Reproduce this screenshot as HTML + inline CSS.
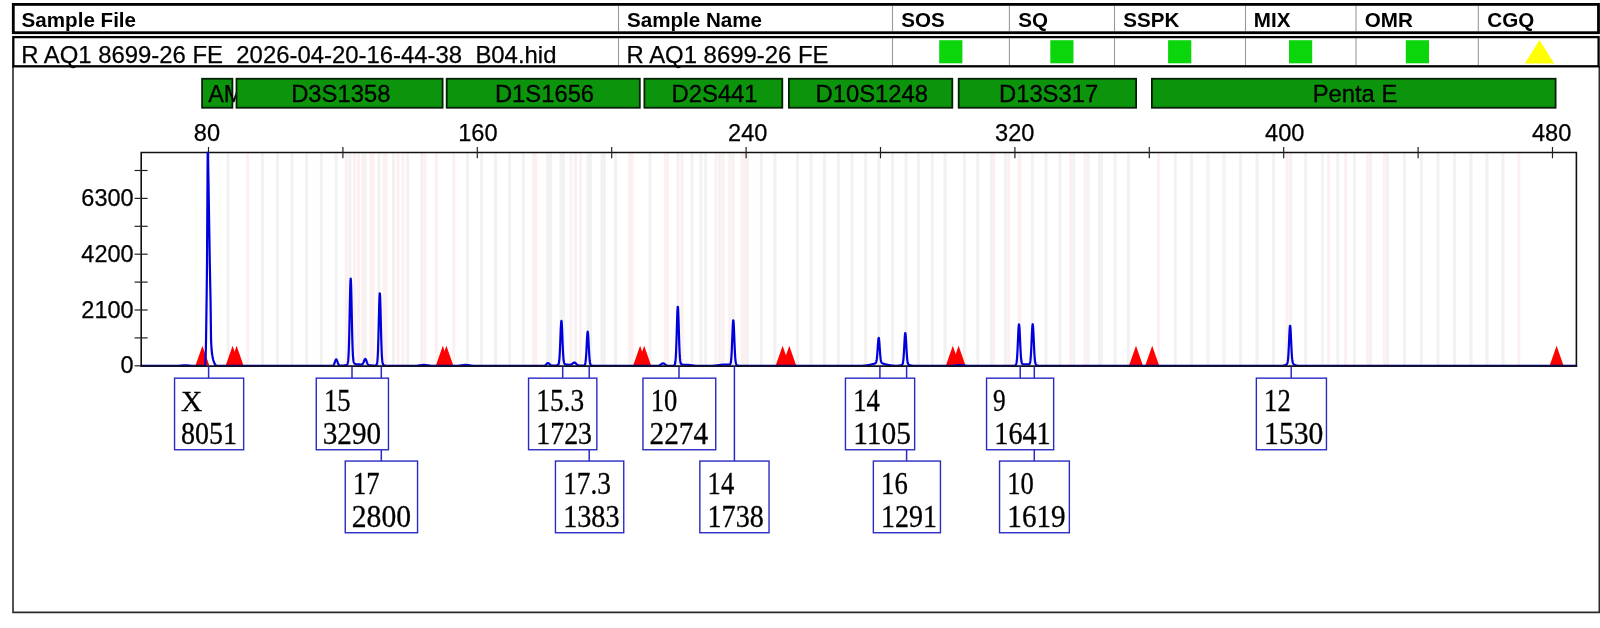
<!DOCTYPE html>
<html><head><meta charset="utf-8"><title>Electropherogram</title>
<style>html,body{margin:0;padding:0;background:#fff;}body{width:1600px;height:628px;overflow:hidden;}svg{display:block;position:absolute;left:0;top:0;will-change:transform;}.s{font-family:"Liberation Sans",sans-serif;}.t{font-family:"Liberation Serif",serif;}</style></head><body>
<svg width="1600" height="628" viewBox="0 0 1600 628">
<rect x="0" y="0" width="1600" height="628" fill="#ffffff"/>
<path d="M13.0 66 V612.4 H1599.3 V66" fill="none" stroke="#2a2a2a" stroke-width="1.6"/>
<line x1="618.5" y1="5.8" x2="618.5" y2="31.3" stroke="#9a9a9a" stroke-width="1.1"/>
<line x1="618.5" y1="38.2" x2="618.5" y2="65.1" stroke="#9a9a9a" stroke-width="1.1"/>
<line x1="892.5" y1="5.8" x2="892.5" y2="31.3" stroke="#9a9a9a" stroke-width="1.1"/>
<line x1="892.5" y1="38.2" x2="892.5" y2="65.1" stroke="#9a9a9a" stroke-width="1.1"/>
<line x1="1009.4" y1="5.8" x2="1009.4" y2="31.3" stroke="#9a9a9a" stroke-width="1.1"/>
<line x1="1009.4" y1="38.2" x2="1009.4" y2="65.1" stroke="#9a9a9a" stroke-width="1.1"/>
<line x1="1114.5" y1="5.8" x2="1114.5" y2="31.3" stroke="#9a9a9a" stroke-width="1.1"/>
<line x1="1114.5" y1="38.2" x2="1114.5" y2="65.1" stroke="#9a9a9a" stroke-width="1.1"/>
<line x1="1245.5" y1="5.8" x2="1245.5" y2="31.3" stroke="#9a9a9a" stroke-width="1.1"/>
<line x1="1245.5" y1="38.2" x2="1245.5" y2="65.1" stroke="#9a9a9a" stroke-width="1.1"/>
<line x1="1356.0" y1="5.8" x2="1356.0" y2="31.3" stroke="#9a9a9a" stroke-width="1.1"/>
<line x1="1356.0" y1="38.2" x2="1356.0" y2="65.1" stroke="#9a9a9a" stroke-width="1.1"/>
<line x1="1478.3" y1="5.8" x2="1478.3" y2="31.3" stroke="#9a9a9a" stroke-width="1.1"/>
<line x1="1478.3" y1="38.2" x2="1478.3" y2="65.1" stroke="#9a9a9a" stroke-width="1.1"/>
<text class="s" x="21.6" y="26.8" font-size="20.6" font-weight="bold" fill="#000">Sample File</text>
<text class="s" x="627.0" y="26.8" font-size="20.6" font-weight="bold" fill="#000">Sample Name</text>
<text class="s" x="901.3" y="26.8" font-size="20.6" font-weight="bold" fill="#000">SOS</text>
<text class="s" x="1018.3" y="26.8" font-size="20.6" font-weight="bold" fill="#000">SQ</text>
<text class="s" x="1123.3" y="26.8" font-size="20.6" font-weight="bold" fill="#000">SSPK</text>
<text class="s" x="1253.8" y="26.8" font-size="20.6" font-weight="bold" fill="#000">MIX</text>
<text class="s" x="1364.8" y="26.8" font-size="20.6" font-weight="bold" fill="#000">OMR</text>
<text class="s" x="1487.3" y="26.8" font-size="20.6" font-weight="bold" fill="#000">CGQ</text>
<text class="s" x="21.2" y="63.2" font-size="23.9" fill="#000" stroke="#000" stroke-width="0.25" xml:space="preserve">R AQ1 8699-26 FE  2026-04-20-16-44-38  B04.hid</text>
<text class="s" x="626.6" y="63.2" font-size="23.9" fill="#000" stroke="#000" stroke-width="0.25">R AQ1 8699-26 FE</text>
<rect x="939.2" y="40.2" width="23.2" height="23.1" fill="#0bd60b"/>
<rect x="1050.3" y="40.2" width="23.2" height="23.1" fill="#0bd60b"/>
<rect x="1168.1" y="40.2" width="23.2" height="23.1" fill="#0bd60b"/>
<rect x="1289.0" y="40.2" width="23.2" height="23.1" fill="#0bd60b"/>
<rect x="1405.8" y="40.2" width="23.2" height="23.1" fill="#0bd60b"/>
<path d="M1539.5 40.0 L1554.2 63.6 L1524.8 63.6 Z" fill="#ffff00"/>
<rect x="13.3" y="4.4" width="1585.2" height="28.3" fill="none" stroke="#000" stroke-width="2.8"/>
<rect x="13.3" y="37.1" width="1585.3" height="29.2" fill="none" stroke="#000" stroke-width="2.3"/>
<defs><clipPath id="amclip"><rect x="201.4" y="78" width="34.5" height="30.3"/></clipPath></defs>
<rect x="202.1" y="78.75" width="30.3" height="29.0" fill="#0c940c" stroke="#042004" stroke-width="1.8"/>
<text class="s" x="208.2" y="102.2" font-size="23.5" fill="#000" stroke="#000" stroke-width="0.25" clip-path="url(#amclip)">AMEL</text>
<rect x="236.5" y="78.75" width="206.1" height="29.0" fill="#0c940c" stroke="#042004" stroke-width="1.8"/>
<text class="s" x="340.8" y="102.2" font-size="23.8" fill="#000" stroke="#000" stroke-width="0.3" text-anchor="middle">D3S1358</text>
<rect x="446.7" y="78.75" width="193.1" height="29.0" fill="#0c940c" stroke="#042004" stroke-width="1.8"/>
<text class="s" x="544.5" y="102.2" font-size="23.8" fill="#000" stroke="#000" stroke-width="0.3" text-anchor="middle">D1S1656</text>
<rect x="644.4" y="78.75" width="137.9" height="29.0" fill="#0c940c" stroke="#042004" stroke-width="1.8"/>
<text class="s" x="714.6" y="102.2" font-size="23.8" fill="#000" stroke="#000" stroke-width="0.3" text-anchor="middle">D2S441</text>
<rect x="788.9" y="78.75" width="163.4" height="29.0" fill="#0c940c" stroke="#042004" stroke-width="1.8"/>
<text class="s" x="871.8" y="102.2" font-size="23.8" fill="#000" stroke="#000" stroke-width="0.3" text-anchor="middle">D10S1248</text>
<rect x="958.7" y="78.75" width="177.4" height="29.0" fill="#0c940c" stroke="#042004" stroke-width="1.8"/>
<text class="s" x="1048.6" y="102.2" font-size="23.8" fill="#000" stroke="#000" stroke-width="0.3" text-anchor="middle">D13S317</text>
<rect x="1151.9" y="78.75" width="403.7" height="29.0" fill="#0c940c" stroke="#042004" stroke-width="1.8"/>
<text class="s" x="1355.0" y="102.2" font-size="23.8" fill="#000" stroke="#000" stroke-width="0.3" text-anchor="middle">Penta E</text>
<rect x="226.6" y="152.5" width="3" height="213.1" fill="#f2f2f2"/>
<rect x="261.0" y="152.5" width="3" height="213.1" fill="#f2f2f2"/>
<rect x="276.0" y="152.5" width="3" height="213.1" fill="#f2f2f2"/>
<rect x="290.4" y="152.5" width="3" height="213.1" fill="#f2f2f2"/>
<rect x="305.1" y="152.5" width="3" height="213.1" fill="#f2f2f2"/>
<rect x="319.8" y="152.5" width="3" height="213.1" fill="#f2f2f2"/>
<rect x="334.6" y="152.5" width="3" height="213.1" fill="#f2f2f2"/>
<rect x="348.5" y="152.5" width="3" height="213.1" fill="#f2f2f2"/>
<rect x="363.5" y="152.5" width="3" height="213.1" fill="#f2f2f2"/>
<rect x="377.5" y="152.5" width="3" height="213.1" fill="#f2f2f2"/>
<rect x="392.0" y="152.5" width="3" height="213.1" fill="#f2f2f2"/>
<rect x="406.0" y="152.5" width="3" height="213.1" fill="#f2f2f2"/>
<rect x="420.4" y="152.5" width="3" height="213.1" fill="#f2f2f2"/>
<rect x="466.0" y="152.5" width="3" height="213.1" fill="#f2f2f2"/>
<rect x="480.0" y="152.5" width="3" height="213.1" fill="#f2f2f2"/>
<rect x="494.1" y="152.5" width="3" height="213.1" fill="#f2f2f2"/>
<rect x="508.1" y="152.5" width="3" height="213.1" fill="#f2f2f2"/>
<rect x="521.8" y="152.5" width="3" height="213.1" fill="#f2f2f2"/>
<rect x="546.0" y="152.5" width="3" height="213.1" fill="#f2f2f2"/>
<rect x="549.1" y="152.5" width="3" height="213.1" fill="#f2f2f2"/>
<rect x="559.5" y="152.5" width="3" height="213.1" fill="#f2f2f2"/>
<rect x="562.0" y="152.5" width="3" height="213.1" fill="#f2f2f2"/>
<rect x="574.1" y="152.5" width="3" height="213.1" fill="#f2f2f2"/>
<rect x="586.5" y="152.5" width="3" height="213.1" fill="#f2f2f2"/>
<rect x="589.0" y="152.5" width="3" height="213.1" fill="#f2f2f2"/>
<rect x="600.5" y="152.5" width="3" height="213.1" fill="#f2f2f2"/>
<rect x="603.0" y="152.5" width="3" height="213.1" fill="#f2f2f2"/>
<rect x="614.1" y="152.5" width="3" height="213.1" fill="#f2f2f2"/>
<rect x="648.5" y="152.5" width="3" height="213.1" fill="#f2f2f2"/>
<rect x="676.5" y="152.5" width="3" height="213.1" fill="#f2f2f2"/>
<rect x="690.5" y="152.5" width="3" height="213.1" fill="#f2f2f2"/>
<rect x="699.5" y="152.5" width="3" height="213.1" fill="#f2f2f2"/>
<rect x="704.1" y="152.5" width="3" height="213.1" fill="#f2f2f2"/>
<rect x="717.9" y="152.5" width="3" height="213.1" fill="#f2f2f2"/>
<rect x="731.5" y="152.5" width="3" height="213.1" fill="#f2f2f2"/>
<rect x="746.0" y="152.5" width="3" height="213.1" fill="#f2f2f2"/>
<rect x="759.8" y="152.5" width="3" height="213.1" fill="#f2f2f2"/>
<rect x="773.5" y="152.5" width="3" height="213.1" fill="#f2f2f2"/>
<rect x="796.0" y="152.5" width="3" height="213.1" fill="#f2f2f2"/>
<rect x="809.5" y="152.5" width="3" height="213.1" fill="#f2f2f2"/>
<rect x="822.9" y="152.5" width="3" height="213.1" fill="#f2f2f2"/>
<rect x="836.9" y="152.5" width="3" height="213.1" fill="#f2f2f2"/>
<rect x="850.5" y="152.5" width="3" height="213.1" fill="#f2f2f2"/>
<rect x="864.1" y="152.5" width="3" height="213.1" fill="#f2f2f2"/>
<rect x="877.5" y="152.5" width="3" height="213.1" fill="#f2f2f2"/>
<rect x="891.0" y="152.5" width="3" height="213.1" fill="#f2f2f2"/>
<rect x="904.5" y="152.5" width="3" height="213.1" fill="#f2f2f2"/>
<rect x="917.0" y="152.5" width="3" height="213.1" fill="#f2f2f2"/>
<rect x="930.8" y="152.5" width="3" height="213.1" fill="#f2f2f2"/>
<rect x="943.5" y="152.5" width="3" height="213.1" fill="#f2f2f2"/>
<rect x="962.9" y="152.5" width="3" height="213.1" fill="#f2f2f2"/>
<rect x="976.3" y="152.5" width="3" height="213.1" fill="#f2f2f2"/>
<rect x="990.1" y="152.5" width="3" height="213.1" fill="#f2f2f2"/>
<rect x="1003.9" y="152.5" width="3" height="213.1" fill="#f2f2f2"/>
<rect x="1017.3" y="152.5" width="3" height="213.1" fill="#f2f2f2"/>
<rect x="1030.8" y="152.5" width="3" height="213.1" fill="#f2f2f2"/>
<rect x="1044.5" y="152.5" width="3" height="213.1" fill="#f2f2f2"/>
<rect x="1058.5" y="152.5" width="3" height="213.1" fill="#f2f2f2"/>
<rect x="1072.3" y="152.5" width="3" height="213.1" fill="#f2f2f2"/>
<rect x="1086.5" y="152.5" width="3" height="213.1" fill="#f2f2f2"/>
<rect x="1098.1" y="152.5" width="3" height="213.1" fill="#f2f2f2"/>
<rect x="1099.8" y="152.5" width="3" height="213.1" fill="#f2f2f2"/>
<rect x="1113.5" y="152.5" width="3" height="213.1" fill="#f2f2f2"/>
<rect x="1127.0" y="152.5" width="3" height="213.1" fill="#f2f2f2"/>
<rect x="1173.8" y="152.5" width="3" height="213.1" fill="#f2f2f2"/>
<rect x="1190.0" y="152.5" width="3" height="213.1" fill="#f2f2f2"/>
<rect x="1206.5" y="152.5" width="3" height="213.1" fill="#f2f2f2"/>
<rect x="1222.5" y="152.5" width="3" height="213.1" fill="#f2f2f2"/>
<rect x="1239.1" y="152.5" width="3" height="213.1" fill="#f2f2f2"/>
<rect x="1255.5" y="152.5" width="3" height="213.1" fill="#f2f2f2"/>
<rect x="1272.0" y="152.5" width="3" height="213.1" fill="#f2f2f2"/>
<rect x="1289.1" y="152.5" width="3" height="213.1" fill="#f2f2f2"/>
<rect x="1304.1" y="152.5" width="3" height="213.1" fill="#f2f2f2"/>
<rect x="1320.8" y="152.5" width="3" height="213.1" fill="#f2f2f2"/>
<rect x="1336.3" y="152.5" width="3" height="213.1" fill="#f2f2f2"/>
<rect x="1352.9" y="152.5" width="3" height="213.1" fill="#f2f2f2"/>
<rect x="1369.1" y="152.5" width="3" height="213.1" fill="#f2f2f2"/>
<rect x="1386.0" y="152.5" width="3" height="213.1" fill="#f2f2f2"/>
<rect x="1402.9" y="152.5" width="3" height="213.1" fill="#f2f2f2"/>
<rect x="1419.8" y="152.5" width="3" height="213.1" fill="#f2f2f2"/>
<rect x="1436.5" y="152.5" width="3" height="213.1" fill="#f2f2f2"/>
<rect x="1453.1" y="152.5" width="3" height="213.1" fill="#f2f2f2"/>
<rect x="1469.5" y="152.5" width="3" height="213.1" fill="#f2f2f2"/>
<rect x="1485.5" y="152.5" width="3" height="213.1" fill="#f2f2f2"/>
<rect x="1501.5" y="152.5" width="3" height="213.1" fill="#f2f2f2"/>
<rect x="246.1" y="152.5" width="3" height="213.1" fill="#fdf0f0"/>
<rect x="344.8" y="152.5" width="3" height="213.1" fill="#fdf0f0"/>
<rect x="352.9" y="152.5" width="3" height="213.1" fill="#fdf0f0"/>
<rect x="357.0" y="152.5" width="3" height="213.1" fill="#fdf0f0"/>
<rect x="361.3" y="152.5" width="3" height="213.1" fill="#fdf0f0"/>
<rect x="369.5" y="152.5" width="3" height="213.1" fill="#fdf0f0"/>
<rect x="371.5" y="152.5" width="3" height="213.1" fill="#fdf0f0"/>
<rect x="382.5" y="152.5" width="3" height="213.1" fill="#fdf0f0"/>
<rect x="384.5" y="152.5" width="3" height="213.1" fill="#fdf0f0"/>
<rect x="396.5" y="152.5" width="3" height="213.1" fill="#fdf0f0"/>
<rect x="401.5" y="152.5" width="3" height="213.1" fill="#fdf0f0"/>
<rect x="423.5" y="152.5" width="3" height="213.1" fill="#fdf0f0"/>
<rect x="434.8" y="152.5" width="3" height="213.1" fill="#fdf0f0"/>
<rect x="452.3" y="152.5" width="3" height="213.1" fill="#fdf0f0"/>
<rect x="532.0" y="152.5" width="3" height="213.1" fill="#fdf0f0"/>
<rect x="534.3" y="152.5" width="3" height="213.1" fill="#fdf0f0"/>
<rect x="569.5" y="152.5" width="3" height="213.1" fill="#fdf0f0"/>
<rect x="579.1" y="152.5" width="3" height="213.1" fill="#fdf0f0"/>
<rect x="628.0" y="152.5" width="3" height="213.1" fill="#fdf0f0"/>
<rect x="630.5" y="152.5" width="3" height="213.1" fill="#fdf0f0"/>
<rect x="664.0" y="152.5" width="3" height="213.1" fill="#fdf0f0"/>
<rect x="666.0" y="152.5" width="3" height="213.1" fill="#fdf0f0"/>
<rect x="680.5" y="152.5" width="3" height="213.1" fill="#fdf0f0"/>
<rect x="714.3" y="152.5" width="3" height="213.1" fill="#fdf0f0"/>
<rect x="721.5" y="152.5" width="3" height="213.1" fill="#fdf0f0"/>
<rect x="728.3" y="152.5" width="3" height="213.1" fill="#fdf0f0"/>
<rect x="740.5" y="152.5" width="3" height="213.1" fill="#fdf0f0"/>
<rect x="743.0" y="152.5" width="3" height="213.1" fill="#fdf0f0"/>
<rect x="992.3" y="152.5" width="3" height="213.1" fill="#fdf0f0"/>
<rect x="1007.3" y="152.5" width="3" height="213.1" fill="#fdf0f0"/>
<rect x="1018.5" y="152.5" width="3" height="213.1" fill="#fdf0f0"/>
<rect x="1069.1" y="152.5" width="3" height="213.1" fill="#fdf0f0"/>
<rect x="1083.5" y="152.5" width="3" height="213.1" fill="#fdf0f0"/>
<rect x="1157.0" y="152.5" width="3" height="213.1" fill="#fdf0f0"/>
<rect x="1285.5" y="152.5" width="3" height="213.1" fill="#fdf0f0"/>
<rect x="1327.0" y="152.5" width="3" height="213.1" fill="#fdf0f0"/>
<rect x="1344.1" y="152.5" width="3" height="213.1" fill="#fdf0f0"/>
<rect x="1366.0" y="152.5" width="3" height="213.1" fill="#fdf0f0"/>
<rect x="1382.9" y="152.5" width="3" height="213.1" fill="#fdf0f0"/>
<rect x="1517.3" y="152.5" width="3" height="213.1" fill="#fdf0f0"/>
<rect x="195.0" y="152.5" width="3" height="213.1" fill="#fefef8"/>
<rect x="217.3" y="152.5" width="3" height="213.1" fill="#fefef8"/>
<path d="M202.4 345.8 L209.3 365.6 L195.5 365.6 Z" fill="#ff0000"/>
<path d="M232.6 345.8 L239.5 365.6 L225.7 365.6 Z" fill="#ff0000"/>
<path d="M236.6 345.8 L243.5 365.6 L229.7 365.6 Z" fill="#ff0000"/>
<path d="M442.8 345.8 L449.7 365.6 L435.90000000000003 365.6 Z" fill="#ff0000"/>
<path d="M446.4 345.8 L453.29999999999995 365.6 L439.5 365.6 Z" fill="#ff0000"/>
<path d="M640.1 345.8 L647.0 365.6 L633.2 365.6 Z" fill="#ff0000"/>
<path d="M644.2 345.8 L651.1 365.6 L637.3000000000001 365.6 Z" fill="#ff0000"/>
<path d="M782.6 345.8 L789.5 365.6 L775.7 365.6 Z" fill="#ff0000"/>
<path d="M789.3 345.8 L796.1999999999999 365.6 L782.4 365.6 Z" fill="#ff0000"/>
<path d="M952.8 345.8 L959.6999999999999 365.6 L945.9 365.6 Z" fill="#ff0000"/>
<path d="M958.6 345.8 L965.5 365.6 L951.7 365.6 Z" fill="#ff0000"/>
<path d="M1136.0 345.8 L1142.9 365.6 L1129.1 365.6 Z" fill="#ff0000"/>
<path d="M1152.2 345.8 L1159.1000000000001 365.6 L1145.3 365.6 Z" fill="#ff0000"/>
<path d="M1556.6 345.8 L1563.5 365.6 L1549.6999999999998 365.6 Z" fill="#ff0000"/>
<path d="M141.2 366.5 V152.5 H1576.4 V366.5" fill="none" stroke="#111" stroke-width="1.6"/>
<line x1="208.5" y1="147" x2="208.5" y2="158.3" stroke="#222" stroke-width="1.2"/>
<text class="s" x="206.9" y="140.6" font-size="23.6" fill="#000" stroke="#000" stroke-width="0.25" text-anchor="middle">80</text>
<line x1="342.9" y1="147" x2="342.9" y2="158.3" stroke="#222" stroke-width="1.2"/>
<line x1="477.3" y1="147" x2="477.3" y2="158.3" stroke="#222" stroke-width="1.2"/>
<text class="s" x="477.9" y="140.6" font-size="23.6" fill="#000" stroke="#000" stroke-width="0.25" text-anchor="middle">160</text>
<line x1="611.7" y1="147" x2="611.7" y2="158.3" stroke="#222" stroke-width="1.2"/>
<line x1="746.1" y1="147" x2="746.1" y2="158.3" stroke="#222" stroke-width="1.2"/>
<text class="s" x="747.8" y="140.6" font-size="23.6" fill="#000" stroke="#000" stroke-width="0.25" text-anchor="middle">240</text>
<line x1="880.5" y1="147" x2="880.5" y2="158.3" stroke="#222" stroke-width="1.2"/>
<line x1="1014.9" y1="147" x2="1014.9" y2="158.3" stroke="#222" stroke-width="1.2"/>
<text class="s" x="1014.8" y="140.6" font-size="23.6" fill="#000" stroke="#000" stroke-width="0.25" text-anchor="middle">320</text>
<line x1="1149.3" y1="147" x2="1149.3" y2="158.3" stroke="#222" stroke-width="1.2"/>
<line x1="1283.7" y1="147" x2="1283.7" y2="158.3" stroke="#222" stroke-width="1.2"/>
<text class="s" x="1284.8" y="140.6" font-size="23.6" fill="#000" stroke="#000" stroke-width="0.25" text-anchor="middle">400</text>
<line x1="1418.1" y1="147" x2="1418.1" y2="158.3" stroke="#222" stroke-width="1.2"/>
<line x1="1552.5" y1="147" x2="1552.5" y2="158.3" stroke="#222" stroke-width="1.2"/>
<text class="s" x="1551.7" y="140.6" font-size="23.6" fill="#000" stroke="#000" stroke-width="0.25" text-anchor="middle">480</text>
<line x1="134.6" y1="365.8" x2="147.6" y2="365.8" stroke="#222" stroke-width="1.2"/>
<line x1="134.6" y1="337.9" x2="147.6" y2="337.9" stroke="#222" stroke-width="1.2"/>
<line x1="134.6" y1="310.0" x2="147.6" y2="310.0" stroke="#222" stroke-width="1.2"/>
<line x1="134.6" y1="282.1" x2="147.6" y2="282.1" stroke="#222" stroke-width="1.2"/>
<line x1="134.6" y1="254.2" x2="147.6" y2="254.2" stroke="#222" stroke-width="1.2"/>
<line x1="134.6" y1="226.3" x2="147.6" y2="226.3" stroke="#222" stroke-width="1.2"/>
<line x1="134.6" y1="198.4" x2="147.6" y2="198.4" stroke="#222" stroke-width="1.2"/>
<line x1="134.6" y1="170.5" x2="147.6" y2="170.5" stroke="#222" stroke-width="1.2"/>
<text class="s" x="133.6" y="373.4" font-size="23.5" fill="#000" stroke="#000" stroke-width="0.25" text-anchor="end">0</text>
<text class="s" x="133.6" y="317.6" font-size="23.5" fill="#000" stroke="#000" stroke-width="0.25" text-anchor="end">2100</text>
<text class="s" x="133.6" y="261.8" font-size="23.5" fill="#000" stroke="#000" stroke-width="0.25" text-anchor="end">4200</text>
<text class="s" x="133.6" y="206.0" font-size="23.5" fill="#000" stroke="#000" stroke-width="0.25" text-anchor="end">6300</text>
<defs><clipPath id="pc"><rect x="141.2" y="151.7" width="1435.2" height="214.3"/></clipPath></defs>
<polyline clip-path="url(#pc)" points="141.20 365.95 143.20 365.95 145.20 365.95 147.20 365.95 149.20 365.95 151.20 365.95 153.20 365.95 155.20 365.95 157.20 365.95 159.20 365.95 161.20 365.95 163.20 365.95 165.20 365.95 167.20 365.95 169.20 365.95 169.45 365.95 169.70 365.95 169.95 365.95 170.20 365.95 170.45 365.95 170.70 365.95 170.95 365.95 171.20 365.95 171.45 365.95 171.70 365.95 171.95 365.95 172.20 365.95 172.45 365.95 172.70 365.94 172.95 365.94 173.20 365.94 173.45 365.94 173.70 365.94 173.95 365.94 174.20 365.93 174.45 365.93 174.70 365.93 174.95 365.92 175.20 365.92 175.45 365.92 175.70 365.91 175.95 365.90 176.20 365.90 176.45 365.89 176.70 365.88 176.95 365.87 177.20 365.86 177.45 365.85 177.70 365.84 177.95 365.82 178.20 365.81 178.45 365.79 178.70 365.78 178.95 365.76 179.20 365.74 179.45 365.72 179.70 365.70 179.95 365.68 180.20 365.66 180.45 365.64 180.70 365.61 180.95 365.59 181.20 365.57 181.45 365.55 181.70 365.52 181.95 365.50 182.20 365.48 182.45 365.46 182.70 365.44 182.95 365.42 183.20 365.41 183.45 365.39 183.70 365.38 183.95 365.37 184.20 365.36 184.45 365.36 184.70 365.35 184.95 365.35 185.20 365.35 185.45 365.35 185.70 365.36 185.95 365.37 186.20 365.38 186.45 365.39 186.70 365.40 186.95 365.42 187.20 365.43 187.45 365.45 187.70 365.47 187.95 365.49 188.20 365.51 188.45 365.54 188.70 365.56 188.95 365.58 189.20 365.60 189.45 365.63 189.70 365.65 189.95 365.67 190.20 365.69 190.45 365.71 190.70 365.73 190.95 365.75 191.20 365.77 191.45 365.79 191.70 365.80 191.95 365.82 192.20 365.83 192.45 365.84 192.70 365.86 192.95 365.87 193.20 365.88 193.45 365.89 193.70 365.89 193.95 365.90 194.20 365.91 194.45 365.91 194.70 365.92 194.95 365.92 195.20 365.93 195.45 365.93 195.70 365.93 195.95 365.94 196.20 365.94 196.45 365.94 196.70 365.94 196.95 365.94 197.20 365.94 197.45 365.95 197.70 365.95 197.95 365.95 198.20 365.95 198.45 365.95 198.70 365.95 198.95 365.95 199.20 365.95 199.45 365.95 199.70 365.95 199.95 365.95 200.20 365.95 200.45 365.95 200.70 365.95 200.95 365.95 201.20 365.95 203.20 365.95 204.70 365.95 205.20 364.80 205.50 360.00 205.70 355.00 206.05 340.00 206.60 300.00 206.99 265.00 207.26 220.00 207.51 180.00 207.70 152.00 207.85 148.00 208.00 152.00 208.46 180.00 209.11 220.00 209.84 265.00 210.55 300.00 211.05 340.00 211.60 350.00 212.30 355.50 213.10 359.50 214.10 362.60 215.30 365.00 216.60 365.80 216.95 365.95 218.95 365.95 220.95 365.95 222.95 365.95 224.95 365.95 226.95 365.95 228.95 365.95 230.95 365.95 232.95 365.95 234.95 365.95 236.95 365.95 238.95 365.95 240.95 365.95 242.95 365.95 244.95 365.95 246.95 365.95 248.95 365.95 250.95 365.95 252.95 365.95 254.95 365.95 256.95 365.95 258.95 365.95 260.95 365.95 262.95 365.95 264.95 365.95 266.95 365.95 268.95 365.95 270.95 365.95 272.95 365.95 274.95 365.95 276.95 365.95 278.95 365.95 280.95 365.95 282.95 365.95 284.95 365.95 286.95 365.95 288.95 365.95 290.95 365.95 292.95 365.95 294.95 365.95 296.95 365.95 298.95 365.95 300.95 365.95 302.95 365.95 304.95 365.95 306.95 365.95 308.95 365.95 310.95 365.95 312.95 365.95 314.95 365.95 316.95 365.95 318.95 365.95 320.95 365.95 322.95 365.95 323.20 365.95 323.45 365.95 323.70 365.95 323.95 365.95 324.20 365.95 324.45 365.95 324.70 365.95 324.95 365.95 325.20 365.95 325.45 365.95 325.70 365.95 325.95 365.95 326.20 365.95 326.45 365.95 326.70 365.95 326.95 365.95 327.20 365.95 327.45 365.95 327.70 365.94 327.95 365.94 328.20 365.94 328.45 365.94 328.70 365.94 328.95 365.94 329.20 365.94 329.45 365.94 329.70 365.94 329.95 365.94 330.20 365.94 330.45 365.94 330.70 365.93 330.95 365.93 331.20 365.93 331.45 365.92 331.70 365.91 331.95 365.90 332.20 365.87 332.45 365.82 332.70 365.75 332.95 365.63 333.20 365.46 333.45 365.22 333.70 364.89 333.95 364.45 334.20 363.91 334.45 363.27 334.70 362.56 334.95 361.80 335.20 361.05 335.45 360.38 335.70 359.84 335.95 359.49 336.20 359.37 336.45 359.48 336.70 359.82 336.95 360.35 337.20 361.01 337.45 361.75 337.70 362.49 337.95 363.20 338.20 363.83 338.45 364.35 338.70 364.78 338.95 365.10 339.20 365.33 339.45 365.49 339.70 365.59 339.95 365.65 340.20 365.68 340.45 365.69 340.70 365.70 340.95 365.69 341.20 365.68 341.45 365.67 341.70 365.66 341.95 365.64 342.20 365.63 342.45 365.61 342.70 365.59 342.95 365.57 343.20 365.56 343.45 365.53 343.70 365.51 343.95 365.49 344.20 365.46 344.45 365.43 344.70 365.39 344.95 365.35 345.20 365.31 345.45 365.25 345.70 365.19 345.95 365.12 346.20 365.04 346.45 364.94 346.70 364.81 346.95 364.64 347.20 364.39 347.45 364.00 347.70 363.33 347.95 362.17 348.20 360.21 348.45 357.03 348.70 352.16 348.95 345.19 349.20 335.93 349.45 324.61 349.70 312.01 349.95 299.45 350.20 288.64 350.45 281.26 350.70 278.59 350.95 281.08 351.20 288.28 351.45 298.92 351.70 311.32 351.95 323.79 352.20 334.99 352.45 344.15 352.70 351.04 352.95 355.84 353.20 358.98 353.45 360.92 353.70 362.07 353.95 362.74 354.20 363.15 354.45 363.41 354.70 363.60 354.95 363.75 355.20 363.87 355.45 363.98 355.70 364.07 355.95 364.14 356.20 364.20 356.45 364.26 356.70 364.30 356.95 364.33 357.20 364.36 357.45 364.38 357.70 364.40 357.95 364.41 358.20 364.42 358.45 364.43 358.70 364.44 358.95 364.45 359.20 364.46 359.45 364.46 359.70 364.47 359.95 364.48 360.20 364.49 360.45 364.50 360.70 364.50 360.95 364.51 361.20 364.50 361.45 364.48 361.70 364.44 361.95 364.37 362.20 364.26 362.45 364.08 362.70 363.83 362.95 363.49 363.20 363.05 363.45 362.52 363.70 361.91 363.95 361.25 364.20 360.57 364.45 359.94 364.70 359.42 364.95 359.05 365.20 358.88 365.45 358.92 365.70 359.19 365.95 359.64 366.20 360.24 366.45 360.93 366.70 361.65 366.95 362.35 367.20 363.00 367.45 363.56 367.70 364.02 367.95 364.38 368.20 364.66 368.45 364.87 368.70 365.01 368.95 365.12 369.20 365.19 369.45 365.25 369.70 365.29 369.95 365.32 370.20 365.35 370.45 365.37 370.70 365.39 370.95 365.42 371.20 365.44 371.45 365.46 371.70 365.48 371.95 365.50 372.20 365.51 372.45 365.53 372.70 365.54 372.95 365.56 373.20 365.57 373.45 365.58 373.70 365.58 373.95 365.58 374.20 365.58 374.45 365.57 374.70 365.55 374.95 365.53 375.20 365.50 375.45 365.45 375.70 365.38 375.95 365.29 376.20 365.14 376.45 364.90 376.70 364.47 376.95 363.72 377.20 362.40 377.45 360.20 377.70 356.74 377.95 351.63 378.20 344.61 378.45 335.72 378.70 325.42 378.95 314.66 379.20 304.78 379.45 297.26 379.70 293.35 379.95 293.74 380.20 298.35 380.45 306.36 380.70 316.45 380.95 327.14 381.20 337.16 381.45 345.65 381.70 352.26 381.95 357.01 382.20 360.20 382.45 362.21 382.70 363.43 382.95 364.15 383.20 364.59 383.45 364.87 383.70 365.06 383.95 365.21 384.20 365.34 384.45 365.44 384.70 365.54 384.95 365.61 385.20 365.68 385.45 365.73 385.70 365.78 385.95 365.82 386.20 365.85 386.45 365.87 386.70 365.89 386.95 365.90 387.20 365.91 387.45 365.92 387.70 365.93 387.95 365.93 388.20 365.94 388.45 365.94 388.70 365.94 388.95 365.94 389.20 365.94 389.45 365.95 389.70 365.95 389.95 365.95 390.20 365.95 390.45 365.95 390.70 365.95 390.95 365.95 391.20 365.95 391.45 365.95 391.70 365.95 391.95 365.95 392.20 365.95 392.45 365.95 392.70 365.95 392.95 365.95 393.20 365.95 393.45 365.95 393.70 365.95 393.95 365.95 394.20 365.95 396.20 365.95 398.20 365.95 400.20 365.95 402.20 365.95 404.20 365.95 406.20 365.95 408.20 365.95 408.45 365.95 408.70 365.95 408.95 365.95 409.20 365.95 409.45 365.95 409.70 365.95 409.95 365.95 410.20 365.95 410.45 365.95 410.70 365.95 410.95 365.95 411.20 365.94 411.45 365.94 411.70 365.94 411.95 365.94 412.20 365.94 412.45 365.93 412.70 365.93 412.95 365.93 413.20 365.92 413.45 365.92 413.70 365.91 413.95 365.91 414.20 365.90 414.45 365.89 414.70 365.88 414.95 365.87 415.20 365.86 415.45 365.85 415.70 365.83 415.95 365.82 416.20 365.80 416.45 365.78 416.70 365.76 416.95 365.74 417.20 365.71 417.45 365.69 417.70 365.66 417.95 365.63 418.20 365.60 418.45 365.57 418.70 365.53 418.95 365.50 419.20 365.46 419.45 365.43 419.70 365.39 419.95 365.35 420.20 365.31 420.45 365.28 420.70 365.24 420.95 365.20 421.20 365.17 421.45 365.13 421.70 365.10 421.95 365.07 422.20 365.05 422.45 365.02 422.70 365.00 422.95 364.98 423.20 364.97 423.45 364.96 423.70 364.95 423.95 364.95 424.20 364.95 424.45 364.96 424.70 364.97 424.95 364.98 425.20 364.99 425.45 365.01 425.70 365.04 425.95 365.06 426.20 365.09 426.45 365.12 426.70 365.15 426.95 365.19 427.20 365.22 427.45 365.26 427.70 365.30 427.95 365.34 428.20 365.37 428.45 365.41 428.70 365.45 428.95 365.48 429.20 365.52 429.45 365.55 429.70 365.59 429.95 365.62 430.20 365.65 430.45 365.68 430.70 365.70 430.95 365.73 431.20 365.75 431.45 365.77 431.70 365.79 431.95 365.81 432.20 365.83 432.45 365.84 432.70 365.86 432.95 365.87 433.20 365.88 433.45 365.89 433.70 365.90 433.95 365.90 434.20 365.91 434.45 365.92 434.70 365.92 434.95 365.93 435.20 365.93 435.45 365.93 435.70 365.94 435.95 365.94 436.20 365.94 436.45 365.94 436.70 365.94 436.95 365.94 437.20 365.95 437.45 365.95 437.70 365.95 437.95 365.95 438.20 365.95 438.45 365.95 438.70 365.95 438.95 365.95 439.20 365.95 439.45 365.95 439.70 365.95 439.95 365.95 440.20 365.95 442.20 365.95 444.20 365.95 446.20 365.95 448.20 365.95 450.20 365.95 450.45 365.95 450.70 365.95 450.95 365.95 451.20 365.95 451.45 365.95 451.70 365.95 451.95 365.95 452.20 365.95 452.45 365.95 452.70 365.94 452.95 365.94 453.20 365.94 453.45 365.94 453.70 365.94 453.95 365.94 454.20 365.93 454.45 365.93 454.70 365.93 454.95 365.92 455.20 365.92 455.45 365.91 455.70 365.90 455.95 365.90 456.20 365.89 456.45 365.88 456.70 365.87 456.95 365.85 457.20 365.84 457.45 365.82 457.70 365.81 457.95 365.79 458.20 365.77 458.45 365.75 458.70 365.72 458.95 365.70 459.20 365.67 459.45 365.64 459.70 365.61 459.95 365.58 460.20 365.55 460.45 365.51 460.70 365.48 460.95 365.44 461.20 365.40 461.45 365.37 461.70 365.33 461.95 365.29 462.20 365.25 462.45 365.22 462.70 365.18 462.95 365.15 463.20 365.11 463.45 365.08 463.70 365.06 463.95 365.03 464.20 365.01 464.45 364.99 464.70 364.97 464.95 364.96 465.20 364.95 465.45 364.95 465.70 364.95 465.95 364.95 466.20 364.96 466.45 364.97 466.70 364.99 466.95 365.01 467.20 365.03 467.45 365.05 467.70 365.08 467.95 365.11 468.20 365.14 468.45 365.17 468.70 365.21 468.95 365.25 469.20 365.28 469.45 365.32 469.70 365.36 469.95 365.40 470.20 365.43 470.45 365.47 470.70 365.51 470.95 365.54 471.20 365.57 471.45 365.61 471.70 365.64 471.95 365.67 472.20 365.69 472.45 365.72 472.70 365.74 472.95 365.77 473.20 365.79 473.45 365.80 473.70 365.82 473.95 365.84 474.20 365.85 474.45 365.86 474.70 365.87 474.95 365.88 475.20 365.89 475.45 365.90 475.70 365.91 475.95 365.91 476.20 365.92 476.45 365.92 476.70 365.93 476.95 365.93 477.20 365.94 477.45 365.94 477.70 365.94 477.95 365.94 478.20 365.94 478.45 365.94 478.70 365.95 478.95 365.95 479.20 365.95 479.45 365.95 479.70 365.95 479.95 365.95 480.20 365.95 480.45 365.95 480.70 365.95 480.95 365.95 481.20 365.95 481.45 365.95 481.70 365.95 483.70 365.95 485.70 365.95 487.70 365.95 489.70 365.95 491.70 365.95 493.70 365.95 495.70 365.95 497.70 365.95 499.70 365.95 501.70 365.95 503.70 365.95 505.70 365.95 507.70 365.95 509.70 365.95 511.70 365.95 513.70 365.95 515.70 365.95 517.70 365.95 519.70 365.95 521.70 365.95 523.70 365.95 525.70 365.95 527.70 365.95 529.70 365.95 531.70 365.95 533.70 365.95 535.70 365.95 537.70 365.95 537.95 365.95 538.20 365.95 538.45 365.95 538.70 365.95 538.95 365.95 539.20 365.95 539.45 365.95 539.70 365.95 539.95 365.95 540.20 365.95 540.45 365.95 540.70 365.95 540.95 365.95 541.20 365.95 541.45 365.94 541.70 365.94 541.95 365.94 542.20 365.94 542.45 365.94 542.70 365.93 542.95 365.92 543.20 365.91 543.45 365.89 543.70 365.86 543.95 365.82 544.20 365.77 544.45 365.70 544.70 365.60 544.95 365.48 545.20 365.32 545.45 365.14 545.70 364.93 545.95 364.69 546.20 364.43 546.45 364.17 546.70 363.90 546.95 363.65 547.20 363.44 547.45 363.27 547.70 363.15 547.95 363.10 548.20 363.12 548.45 363.20 548.70 363.34 548.95 363.53 549.20 363.76 549.45 364.01 549.70 364.27 549.95 364.52 550.20 364.76 550.45 364.97 550.70 365.16 550.95 365.31 551.20 365.44 551.45 365.53 551.70 365.61 551.95 365.66 552.20 365.69 552.45 365.71 552.70 365.72 552.95 365.72 553.20 365.72 553.45 365.71 553.70 365.70 553.95 365.69 554.20 365.67 554.45 365.66 554.70 365.64 554.95 365.62 555.20 365.59 555.45 365.57 555.70 365.54 555.95 365.51 556.20 365.48 556.45 365.44 556.70 365.39 556.95 365.34 557.20 365.28 557.45 365.20 557.70 365.10 557.95 364.95 558.20 364.72 558.45 364.32 558.70 363.65 558.95 362.53 559.20 360.74 559.45 358.04 559.70 354.22 559.95 349.24 560.20 343.25 560.45 336.73 560.70 330.39 560.95 325.13 561.20 321.78 561.45 320.92 561.70 322.71 561.95 326.80 562.20 332.50 562.45 338.92 562.70 345.21 562.95 350.76 563.20 355.21 563.45 358.51 563.70 360.77 563.95 362.23 564.20 363.12 564.45 363.64 564.70 363.95 564.95 364.13 565.20 364.26 565.45 364.34 565.70 364.41 565.95 364.47 566.20 364.52 566.45 364.56 566.70 364.60 566.95 364.63 567.20 364.65 567.45 364.67 567.70 364.69 567.95 364.70 568.20 364.71 568.45 364.72 568.70 364.73 568.95 364.74 569.20 364.74 569.45 364.74 569.70 364.74 569.95 364.73 570.20 364.71 570.45 364.68 570.70 364.64 570.95 364.57 571.20 364.49 571.45 364.38 571.70 364.25 571.95 364.08 572.20 363.89 572.45 363.68 572.70 363.46 572.95 363.23 573.20 363.02 573.45 362.82 573.70 362.66 573.95 362.54 574.20 362.48 574.45 362.48 574.70 362.55 574.95 362.68 575.20 362.86 575.45 363.08 575.70 363.33 575.95 363.59 576.20 363.86 576.45 364.12 576.70 364.36 576.95 364.58 577.20 364.77 577.45 364.93 577.70 365.06 577.95 365.17 578.20 365.26 578.45 365.33 578.70 365.39 578.95 365.43 579.20 365.47 579.45 365.50 579.70 365.53 579.95 365.55 580.20 365.57 580.45 365.59 580.70 365.60 580.95 365.62 581.20 365.63 581.45 365.64 581.70 365.65 581.95 365.66 582.20 365.66 582.45 365.66 582.70 365.66 582.95 365.65 583.20 365.64 583.45 365.62 583.70 365.59 583.95 365.55 584.20 365.47 584.45 365.33 584.70 365.08 584.95 364.64 585.20 363.88 585.45 362.64 585.70 360.73 585.95 357.98 586.20 354.32 586.45 349.85 586.70 344.86 586.95 339.90 587.20 335.63 587.45 332.72 587.70 331.67 587.95 332.67 588.20 335.54 588.45 339.77 588.70 344.71 588.95 349.66 589.20 354.12 589.45 357.76 589.70 360.50 589.95 362.42 590.20 363.68 590.45 364.45 590.70 364.92 590.95 365.20 591.20 365.36 591.45 365.48 591.70 365.56 591.95 365.63 592.20 365.68 592.45 365.73 592.70 365.77 592.95 365.80 593.20 365.83 593.45 365.86 593.70 365.88 593.95 365.89 594.20 365.91 594.45 365.92 594.70 365.92 594.95 365.93 595.20 365.94 595.45 365.94 595.70 365.94 595.95 365.94 596.20 365.94 596.45 365.95 596.70 365.95 596.95 365.95 597.20 365.95 597.45 365.95 597.70 365.95 597.95 365.95 598.20 365.95 598.45 365.95 598.70 365.95 598.95 365.95 599.20 365.95 599.45 365.95 599.70 365.95 599.95 365.95 600.20 365.95 602.20 365.95 604.20 365.95 606.20 365.95 608.20 365.95 610.20 365.95 612.20 365.95 614.20 365.95 616.20 365.95 618.20 365.95 620.20 365.95 622.20 365.95 624.20 365.95 626.20 365.95 628.20 365.95 630.20 365.95 632.20 365.95 634.20 365.95 636.20 365.95 638.20 365.95 640.20 365.95 642.20 365.95 644.20 365.95 646.20 365.95 648.20 365.95 650.20 365.95 652.20 365.95 654.20 365.95 656.20 365.94 656.45 365.94 656.70 365.93 656.95 365.92 657.20 365.91 657.45 365.89 657.70 365.87 657.95 365.84 658.20 365.80 658.45 365.75 658.70 365.69 658.95 365.62 659.20 365.52 659.45 365.41 659.70 365.28 659.95 365.14 660.20 364.97 660.45 364.80 660.70 364.61 660.95 364.41 661.20 364.22 661.45 364.02 661.70 363.85 661.95 363.68 662.20 363.55 662.45 363.45 662.70 363.38 662.95 363.35 663.20 363.36 663.45 363.41 663.70 363.50 663.95 363.63 664.20 363.78 664.45 363.95 664.70 364.14 664.95 364.33 665.20 364.53 665.45 364.72 665.70 364.90 665.95 365.07 666.20 365.23 666.45 365.36 666.70 365.48 666.95 365.58 667.20 365.66 667.45 365.73 667.70 365.78 667.95 365.83 668.20 365.86 668.45 365.88 668.70 365.90 668.95 365.91 669.20 365.92 669.45 365.93 669.70 365.93 669.95 365.93 670.20 365.93 670.45 365.93 670.70 365.93 670.95 365.92 671.20 365.92 671.45 365.91 671.70 365.90 671.95 365.88 672.20 365.86 672.45 365.84 672.70 365.81 672.95 365.78 673.20 365.73 673.45 365.68 673.70 365.61 673.95 365.51 674.20 365.38 674.45 365.16 674.70 364.80 674.95 364.17 675.20 363.08 675.45 361.27 675.70 358.44 675.95 354.26 676.20 348.54 676.45 341.29 676.70 332.90 676.95 324.14 677.20 316.09 677.45 309.96 677.70 306.75 677.95 307.04 678.20 310.75 678.45 317.22 678.70 325.38 678.95 334.03 679.20 342.13 679.45 349.00 679.70 354.33 679.95 358.15 680.20 360.70 680.45 362.30 680.70 363.25 680.95 363.80 681.20 364.11 681.45 364.30 681.70 364.42 681.95 364.51 682.20 364.57 682.45 364.62 682.70 364.66 682.95 364.69 683.20 364.72 683.45 364.73 683.70 364.74 683.95 364.75 684.20 364.75 684.45 364.75 684.70 364.75 684.95 364.75 685.20 364.74 685.45 364.74 685.70 364.74 685.95 364.74 686.20 364.75 686.45 364.75 686.70 364.76 686.95 364.77 687.20 364.78 687.45 364.80 687.70 364.82 687.95 364.84 688.20 364.86 688.45 364.89 688.70 364.91 688.95 364.94 689.20 364.97 689.45 365.00 689.70 365.04 689.95 365.07 690.20 365.11 690.45 365.14 690.70 365.18 690.95 365.21 691.20 365.25 691.45 365.29 691.70 365.32 691.95 365.36 692.20 365.39 692.45 365.43 692.70 365.46 692.95 365.49 693.20 365.52 693.45 365.55 693.70 365.58 693.95 365.61 694.20 365.64 694.45 365.66 694.70 365.69 694.95 365.71 695.20 365.73 695.45 365.75 695.70 365.77 695.95 365.78 696.20 365.80 696.45 365.81 696.70 365.83 696.95 365.84 697.20 365.85 697.45 365.86 697.70 365.87 697.95 365.88 698.20 365.89 698.45 365.90 698.70 365.90 698.95 365.91 699.20 365.91 699.45 365.92 699.70 365.92 699.95 365.93 700.20 365.93 700.45 365.93 700.70 365.93 700.95 365.94 701.20 365.94 701.45 365.94 701.70 365.94 701.95 365.94 702.20 365.94 702.45 365.94 702.70 365.94 702.95 365.94 703.20 365.94 703.45 365.95 703.70 365.95 703.95 365.95 704.20 365.94 704.45 365.94 704.70 365.94 704.95 365.94 705.20 365.94 705.45 365.94 705.70 365.94 705.95 365.94 706.20 365.94 706.45 365.94 706.70 365.94 706.95 365.93 707.20 365.93 707.45 365.93 707.70 365.93 707.95 365.93 708.20 365.92 708.45 365.92 708.70 365.92 708.95 365.91 709.20 365.91 709.45 365.90 709.70 365.90 709.95 365.89 710.20 365.88 710.45 365.88 710.70 365.87 710.95 365.86 711.20 365.85 711.45 365.84 711.70 365.83 711.95 365.82 712.20 365.81 712.45 365.79 712.70 365.78 712.95 365.76 713.20 365.75 713.45 365.73 713.70 365.71 713.95 365.69 714.20 365.67 714.45 365.65 714.70 365.63 714.95 365.61 715.20 365.58 715.45 365.56 715.70 365.53 715.95 365.50 716.20 365.47 716.45 365.44 716.70 365.41 716.95 365.38 717.20 365.35 717.45 365.32 717.70 365.28 717.95 365.25 718.20 365.21 718.45 365.18 718.70 365.14 718.95 365.11 719.20 365.07 719.45 365.04 719.70 365.00 719.95 364.97 720.20 364.93 720.45 364.90 720.70 364.87 720.95 364.84 721.20 364.80 721.45 364.77 721.70 364.75 721.95 364.72 722.20 364.69 722.45 364.67 722.70 364.65 722.95 364.63 723.20 364.61 723.45 364.60 723.70 364.58 723.95 364.57 724.20 364.56 724.45 364.56 724.70 364.55 724.95 364.55 725.20 364.55 725.45 364.55 725.70 364.56 725.95 364.56 726.20 364.57 726.45 364.58 726.70 364.59 726.95 364.60 727.20 364.62 727.45 364.63 727.70 364.64 727.95 364.65 728.20 364.66 728.45 364.66 728.70 364.66 728.95 364.65 729.20 364.64 729.45 364.60 729.70 364.54 729.95 364.42 730.20 364.18 730.45 363.74 730.70 362.95 730.95 361.61 731.20 359.49 731.45 356.34 731.70 352.01 731.95 346.51 732.20 340.14 732.45 333.48 732.70 327.37 732.95 322.72 733.20 320.32 733.45 320.59 733.70 323.48 733.95 328.49 734.20 334.78 734.45 341.45 734.70 347.71 734.95 353.01 735.20 357.14 735.45 360.11 735.70 362.11 735.95 363.39 736.20 364.16 736.45 364.63 736.70 364.91 736.95 365.10 737.20 365.24 737.45 365.34 737.70 365.43 737.95 365.51 738.20 365.58 738.45 365.64 738.70 365.69 738.95 365.73 739.20 365.77 739.45 365.80 739.70 365.82 739.95 365.84 740.20 365.86 740.45 365.88 740.70 365.89 740.95 365.90 741.20 365.90 741.45 365.91 741.70 365.92 741.95 365.92 742.20 365.93 742.45 365.93 742.70 365.93 742.95 365.93 743.20 365.94 743.45 365.94 743.70 365.94 743.95 365.94 744.20 365.94 744.45 365.94 744.70 365.94 744.95 365.94 745.20 365.95 745.45 365.95 745.70 365.95 745.95 365.95 746.20 365.95 746.45 365.95 746.70 365.95 746.95 365.95 747.20 365.95 747.45 365.95 747.70 365.95 747.95 365.95 748.20 365.95 748.45 365.95 748.70 365.95 748.95 365.95 749.20 365.95 751.20 365.95 753.20 365.95 755.20 365.95 757.20 365.95 759.20 365.95 761.20 365.95 763.20 365.95 765.20 365.95 767.20 365.95 769.20 365.95 771.20 365.95 773.20 365.95 775.20 365.95 777.20 365.95 779.20 365.95 781.20 365.95 783.20 365.95 785.20 365.95 787.20 365.95 789.20 365.95 791.20 365.95 793.20 365.95 795.20 365.95 797.20 365.95 799.20 365.95 801.20 365.95 803.20 365.95 805.20 365.95 807.20 365.95 809.20 365.95 811.20 365.95 813.20 365.95 815.20 365.95 817.20 365.95 819.20 365.95 821.20 365.95 823.20 365.95 825.20 365.95 827.20 365.95 829.20 365.95 831.20 365.95 833.20 365.95 835.20 365.95 837.20 365.95 839.20 365.95 841.20 365.95 843.20 365.95 845.20 365.95 847.20 365.95 849.20 365.95 851.20 365.95 851.45 365.95 851.70 365.95 851.95 365.95 852.20 365.95 852.45 365.95 852.70 365.95 852.95 365.95 853.20 365.95 853.45 365.95 853.70 365.95 853.95 365.94 854.20 365.94 854.45 365.94 854.70 365.94 854.95 365.94 855.20 365.94 855.45 365.94 855.70 365.94 855.95 365.94 856.20 365.94 856.45 365.93 856.70 365.93 856.95 365.93 857.20 365.93 857.45 365.92 857.70 365.92 857.95 365.92 858.20 365.91 858.45 365.91 858.70 365.91 858.95 365.90 859.20 365.90 859.45 365.89 859.70 365.88 859.95 365.88 860.20 365.87 860.45 365.86 860.70 365.85 860.95 365.85 861.20 365.84 861.45 365.83 861.70 365.81 861.95 365.80 862.20 365.79 862.45 365.77 862.70 365.76 862.95 365.74 863.20 365.73 863.45 365.71 863.70 365.69 863.95 365.67 864.20 365.65 864.45 365.62 864.70 365.60 864.95 365.57 865.20 365.55 865.45 365.52 865.70 365.49 865.95 365.46 866.20 365.42 866.45 365.39 866.70 365.35 866.95 365.31 867.20 365.28 867.45 365.24 867.70 365.19 867.95 365.15 868.20 365.11 868.45 365.06 868.70 365.01 868.95 364.96 869.20 364.91 869.45 364.86 869.70 364.81 869.95 364.76 870.20 364.71 870.45 364.65 870.70 364.60 870.95 364.54 871.20 364.48 871.45 364.43 871.70 364.37 871.95 364.31 872.20 364.25 872.45 364.19 872.70 364.13 872.95 364.07 873.20 364.01 873.45 363.95 873.70 363.89 873.95 363.82 874.20 363.75 874.45 363.68 874.70 363.61 874.95 363.52 875.20 363.41 875.45 363.26 875.70 363.03 875.95 362.67 876.20 362.06 876.45 361.10 876.70 359.65 876.95 357.58 877.20 354.84 877.45 351.49 877.70 347.77 877.95 344.06 878.20 340.87 878.45 338.70 878.70 337.92 878.95 338.66 879.20 340.80 879.45 343.95 879.70 347.62 879.95 351.32 880.20 354.64 880.45 357.37 880.70 359.43 880.95 360.88 881.20 361.84 881.45 362.45 881.70 362.83 881.95 363.07 882.20 363.23 882.45 363.36 882.70 363.46 882.95 363.56 883.20 363.64 883.45 363.73 883.70 363.81 883.95 363.89 884.20 363.96 884.45 364.03 884.70 364.10 884.95 364.17 885.20 364.23 885.45 364.30 885.70 364.36 885.95 364.42 886.20 364.48 886.45 364.54 886.70 364.59 886.95 364.65 887.20 364.70 887.45 364.76 887.70 364.81 887.95 364.86 888.20 364.91 888.45 364.96 888.70 365.01 888.95 365.06 889.20 365.11 889.45 365.15 889.70 365.19 889.95 365.23 890.20 365.27 890.45 365.31 890.70 365.35 890.95 365.39 891.20 365.42 891.45 365.45 891.70 365.48 891.95 365.51 892.20 365.54 892.45 365.57 892.70 365.59 892.95 365.61 893.20 365.64 893.45 365.66 893.70 365.67 893.95 365.69 894.20 365.70 894.45 365.72 894.70 365.73 894.95 365.74 895.20 365.75 895.45 365.75 895.70 365.76 895.95 365.76 896.20 365.76 896.45 365.76 896.70 365.76 896.95 365.75 897.20 365.74 897.45 365.73 897.70 365.72 897.95 365.70 898.20 365.68 898.45 365.66 898.70 365.64 898.95 365.61 899.20 365.58 899.45 365.55 899.70 365.51 899.95 365.47 900.20 365.43 900.45 365.38 900.70 365.32 900.95 365.26 901.20 365.19 901.45 365.11 901.70 365.00 901.95 364.86 902.20 364.63 902.45 364.26 902.70 363.64 902.95 362.64 903.20 361.09 903.45 358.81 903.70 355.70 903.95 351.77 904.20 347.22 904.45 342.48 904.70 338.13 904.95 334.81 905.20 333.09 905.45 333.26 905.70 335.29 905.95 338.81 906.20 343.25 906.45 347.96 906.70 352.38 906.95 356.14 907.20 359.06 907.45 361.18 907.70 362.61 907.95 363.52 908.20 364.09 908.45 364.44 908.70 364.67 908.95 364.83 909.20 364.95 909.45 365.05 909.70 365.14 909.95 365.23 910.20 365.30 910.45 365.37 910.70 365.44 910.95 365.49 911.20 365.54 911.45 365.59 911.70 365.63 911.95 365.67 912.20 365.70 912.45 365.73 912.70 365.76 912.95 365.78 913.20 365.80 913.45 365.82 913.70 365.84 913.95 365.85 914.20 365.86 914.45 365.88 914.70 365.89 914.95 365.90 915.20 365.90 915.45 365.91 915.70 365.92 915.95 365.92 916.20 365.93 916.45 365.93 916.70 365.93 916.95 365.94 917.20 365.94 917.45 365.94 917.70 365.94 917.95 365.94 918.20 365.94 918.45 365.95 918.70 365.95 918.95 365.95 919.20 365.95 919.45 365.95 919.70 365.95 919.95 365.95 920.20 365.95 920.45 365.95 920.70 365.95 920.95 365.95 921.20 365.95 921.45 365.95 923.45 365.95 925.45 365.95 927.45 365.95 929.45 365.95 931.45 365.95 933.45 365.95 935.45 365.95 937.45 365.95 939.45 365.95 941.45 365.95 943.45 365.95 945.45 365.95 945.70 365.95 945.95 365.95 946.20 365.95 946.45 365.95 946.70 365.95 946.95 365.95 947.20 365.95 947.45 365.94 947.70 365.94 947.95 365.94 948.20 365.94 948.45 365.94 948.70 365.94 948.95 365.93 949.20 365.93 949.45 365.93 949.70 365.92 949.95 365.92 950.20 365.91 950.45 365.90 950.70 365.90 950.95 365.89 951.20 365.88 951.45 365.87 951.70 365.86 951.95 365.84 952.20 365.83 952.45 365.82 952.70 365.80 952.95 365.78 953.20 365.76 953.45 365.74 953.70 365.72 953.95 365.70 954.20 365.67 954.45 365.64 954.70 365.62 954.95 365.59 955.20 365.56 955.45 365.53 955.70 365.50 955.95 365.47 956.20 365.44 956.45 365.41 956.70 365.38 956.95 365.35 957.20 365.32 957.45 365.30 957.70 365.27 957.95 365.25 958.20 365.23 958.45 365.21 958.70 365.19 958.95 365.18 959.20 365.17 959.45 365.16 959.70 365.15 959.95 365.15 960.20 365.15 960.45 365.16 960.70 365.16 960.95 365.17 961.20 365.19 961.45 365.20 961.70 365.22 961.95 365.24 962.20 365.26 962.45 365.29 962.70 365.31 962.95 365.34 963.20 365.37 963.45 365.40 963.70 365.43 963.95 365.46 964.20 365.49 964.45 365.52 964.70 365.55 964.95 365.58 965.20 365.61 965.45 365.63 965.70 365.66 965.95 365.69 966.20 365.71 966.45 365.73 966.70 365.75 966.95 365.77 967.20 365.79 967.45 365.81 967.70 365.82 967.95 365.84 968.20 365.85 968.45 365.86 968.70 365.87 968.95 365.88 969.20 365.89 969.45 365.90 969.70 365.91 969.95 365.91 970.20 365.92 970.45 365.92 970.70 365.93 970.95 365.93 971.20 365.93 971.45 365.94 971.70 365.94 971.95 365.94 972.20 365.94 972.45 365.94 972.70 365.94 972.95 365.95 973.20 365.95 973.45 365.95 973.70 365.95 973.95 365.95 974.20 365.95 974.45 365.95 974.70 365.95 974.95 365.95 975.20 365.95 975.45 365.95 975.70 365.95 975.95 365.95 976.20 365.95 978.20 365.95 980.20 365.95 982.20 365.95 984.20 365.95 986.20 365.95 988.20 365.95 990.20 365.95 992.20 365.95 994.20 365.95 996.20 365.95 998.20 365.95 1000.20 365.95 1002.20 365.95 1004.20 365.95 1006.20 365.95 1006.45 365.95 1006.70 365.95 1006.95 365.95 1007.20 365.95 1007.45 365.95 1007.70 365.95 1007.95 365.95 1008.20 365.95 1008.45 365.95 1008.70 365.95 1008.95 365.95 1009.20 365.94 1009.45 365.94 1009.70 365.94 1009.95 365.94 1010.20 365.94 1010.45 365.94 1010.70 365.93 1010.95 365.93 1011.20 365.93 1011.45 365.92 1011.70 365.92 1011.95 365.91 1012.20 365.90 1012.45 365.89 1012.70 365.88 1012.95 365.87 1013.20 365.85 1013.45 365.83 1013.70 365.80 1013.95 365.77 1014.20 365.73 1014.45 365.69 1014.70 365.63 1014.95 365.56 1015.20 365.46 1015.45 365.32 1015.70 365.08 1015.95 364.69 1016.20 364.05 1016.45 363.00 1016.70 361.36 1016.95 358.95 1017.20 355.60 1017.45 351.26 1017.70 346.04 1017.95 340.29 1018.20 334.56 1018.45 329.54 1018.70 325.95 1018.95 324.33 1019.20 324.93 1019.45 327.65 1019.70 332.05 1019.95 337.46 1020.20 343.16 1020.45 348.53 1020.70 353.14 1020.95 356.80 1021.20 359.49 1021.45 361.34 1021.70 362.54 1021.95 363.27 1022.20 363.70 1022.45 363.94 1022.70 364.09 1022.95 364.17 1023.20 364.22 1023.45 364.26 1023.70 364.29 1023.95 364.31 1024.20 364.33 1024.45 364.35 1024.70 364.36 1024.95 364.37 1025.20 364.38 1025.45 364.38 1025.70 364.39 1025.95 364.40 1026.20 364.40 1026.45 364.41 1026.70 364.41 1026.95 364.42 1027.20 364.42 1027.45 364.42 1027.70 364.43 1027.95 364.42 1028.20 364.42 1028.45 364.41 1028.70 364.38 1028.95 364.33 1029.20 364.22 1029.45 364.02 1029.70 363.65 1029.95 363.00 1030.20 361.92 1030.45 360.21 1030.70 357.69 1030.95 354.22 1031.20 349.76 1031.45 344.48 1031.70 338.76 1031.95 333.19 1032.20 328.48 1032.45 325.32 1032.70 324.22 1032.95 325.35 1033.20 328.53 1033.45 333.27 1033.70 338.87 1033.95 344.63 1034.20 349.95 1034.45 354.46 1034.70 357.99 1034.95 360.58 1035.20 362.35 1035.45 363.51 1035.70 364.24 1035.95 364.68 1036.20 364.97 1036.45 365.15 1036.70 365.28 1036.95 365.39 1037.20 365.47 1037.45 365.54 1037.70 365.61 1037.95 365.66 1038.20 365.71 1038.45 365.75 1038.70 365.79 1038.95 365.82 1039.20 365.84 1039.45 365.86 1039.70 365.88 1039.95 365.89 1040.20 365.90 1040.45 365.91 1040.70 365.92 1040.95 365.92 1041.20 365.93 1041.45 365.93 1041.70 365.94 1041.95 365.94 1042.20 365.94 1042.45 365.94 1042.70 365.94 1042.95 365.94 1043.20 365.95 1043.45 365.95 1043.70 365.95 1043.95 365.95 1044.20 365.95 1044.45 365.95 1044.70 365.95 1044.95 365.95 1045.20 365.95 1045.45 365.95 1045.70 365.95 1045.95 365.95 1046.20 365.95 1048.20 365.95 1050.20 365.95 1052.20 365.95 1054.20 365.95 1056.20 365.95 1058.20 365.95 1060.20 365.95 1062.20 365.95 1064.20 365.95 1066.20 365.95 1068.20 365.95 1070.20 365.95 1072.20 365.95 1074.20 365.95 1076.20 365.95 1078.20 365.95 1080.20 365.95 1082.20 365.95 1084.20 365.95 1086.20 365.95 1088.20 365.95 1090.20 365.95 1092.20 365.95 1094.20 365.95 1096.20 365.95 1098.20 365.95 1100.20 365.95 1102.20 365.95 1104.20 365.95 1106.20 365.95 1108.20 365.95 1110.20 365.95 1112.20 365.95 1114.20 365.95 1116.20 365.95 1118.20 365.95 1120.20 365.95 1122.20 365.95 1124.20 365.95 1126.20 365.95 1128.20 365.95 1130.20 365.95 1132.20 365.95 1134.20 365.95 1136.20 365.95 1138.20 365.95 1140.20 365.95 1142.20 365.95 1144.20 365.95 1146.20 365.95 1148.20 365.95 1150.20 365.95 1152.20 365.95 1154.20 365.95 1156.20 365.95 1158.20 365.95 1160.20 365.95 1162.20 365.95 1164.20 365.95 1166.20 365.95 1168.20 365.95 1170.20 365.95 1172.20 365.95 1174.20 365.95 1176.20 365.95 1178.20 365.95 1180.20 365.95 1182.20 365.95 1184.20 365.95 1186.20 365.95 1188.20 365.95 1190.20 365.95 1192.20 365.95 1194.20 365.95 1196.20 365.95 1198.20 365.95 1200.20 365.95 1202.20 365.95 1204.20 365.95 1206.20 365.95 1208.20 365.95 1210.20 365.95 1212.20 365.95 1214.20 365.95 1216.20 365.95 1218.20 365.95 1220.20 365.95 1222.20 365.95 1224.20 365.95 1226.20 365.95 1228.20 365.95 1230.20 365.95 1232.20 365.95 1234.20 365.95 1236.20 365.95 1238.20 365.95 1240.20 365.95 1242.20 365.95 1244.20 365.95 1246.20 365.95 1248.20 365.95 1250.20 365.95 1252.20 365.95 1254.20 365.95 1256.20 365.95 1258.20 365.95 1260.20 365.95 1262.20 365.95 1264.20 365.95 1266.20 365.95 1268.20 365.95 1270.20 365.95 1272.20 365.95 1274.20 365.95 1276.20 365.95 1276.45 365.95 1276.70 365.95 1276.95 365.95 1277.20 365.95 1277.45 365.95 1277.70 365.95 1277.95 365.95 1278.20 365.94 1278.45 365.94 1278.70 365.94 1278.95 365.94 1279.20 365.93 1279.45 365.93 1279.70 365.93 1279.95 365.92 1280.20 365.91 1280.45 365.91 1280.70 365.90 1280.95 365.88 1281.20 365.87 1281.45 365.86 1281.70 365.84 1281.95 365.82 1282.20 365.79 1282.45 365.76 1282.70 365.73 1282.95 365.70 1283.20 365.66 1283.45 365.61 1283.70 365.56 1283.95 365.50 1284.20 365.44 1284.45 365.37 1284.70 365.29 1284.95 365.21 1285.20 365.12 1285.45 365.02 1285.70 364.91 1285.95 364.79 1286.20 364.65 1286.45 364.49 1286.70 364.28 1286.95 363.99 1287.20 363.54 1287.45 362.83 1287.70 361.70 1287.95 359.95 1288.20 357.38 1288.45 353.82 1288.70 349.28 1288.95 343.93 1289.20 338.22 1289.45 332.84 1289.70 328.56 1289.95 326.07 1290.20 325.81 1290.45 327.81 1290.70 331.73 1290.95 336.91 1291.20 342.56 1291.45 347.99 1291.70 352.69 1291.95 356.43 1292.20 359.18 1292.45 361.07 1292.70 362.32 1292.95 363.11 1293.20 363.61 1293.45 363.95 1293.70 364.19 1293.95 364.39 1294.20 364.55 1294.45 364.70 1294.70 364.84 1294.95 364.97 1295.20 365.08 1295.45 365.19 1295.70 365.28 1295.95 365.37 1296.20 365.45 1296.45 365.51 1296.70 365.57 1296.95 365.63 1297.20 365.67 1297.45 365.71 1297.70 365.75 1297.95 365.78 1298.20 365.81 1298.45 365.83 1298.70 365.85 1298.95 365.87 1299.20 365.88 1299.45 365.89 1299.70 365.90 1299.95 365.91 1300.20 365.92 1300.45 365.92 1300.70 365.93 1300.95 365.93 1301.20 365.94 1301.45 365.94 1301.70 365.94 1301.95 365.94 1302.20 365.94 1302.45 365.95 1302.70 365.95 1302.95 365.95 1303.20 365.95 1303.45 365.95 1303.70 365.95 1303.95 365.95 1304.20 365.95 1306.20 365.95 1308.20 365.95 1310.20 365.95 1312.20 365.95 1314.20 365.95 1316.20 365.95 1318.20 365.95 1320.20 365.95 1322.20 365.95 1324.20 365.95 1326.20 365.95 1328.20 365.95 1330.20 365.95 1332.20 365.95 1334.20 365.95 1336.20 365.95 1338.20 365.95 1340.20 365.95 1342.20 365.95 1344.20 365.95 1346.20 365.95 1348.20 365.95 1350.20 365.95 1352.20 365.95 1354.20 365.95 1356.20 365.95 1358.20 365.95 1360.20 365.95 1362.20 365.95 1364.20 365.95 1366.20 365.95 1368.20 365.95 1370.20 365.95 1372.20 365.95 1374.20 365.95 1376.20 365.95 1378.20 365.95 1380.20 365.95 1382.20 365.95 1384.20 365.95 1386.20 365.95 1388.20 365.95 1390.20 365.95 1392.20 365.95 1394.20 365.95 1396.20 365.95 1398.20 365.95 1400.20 365.95 1402.20 365.95 1404.20 365.95 1406.20 365.95 1408.20 365.95 1410.20 365.95 1412.20 365.95 1414.20 365.95 1416.20 365.95 1418.20 365.95 1420.20 365.95 1422.20 365.95 1424.20 365.95 1426.20 365.95 1428.20 365.95 1430.20 365.95 1432.20 365.95 1434.20 365.95 1436.20 365.95 1438.20 365.95 1440.20 365.95 1442.20 365.95 1444.20 365.95 1446.20 365.95 1448.20 365.95 1450.20 365.95 1452.20 365.95 1454.20 365.95 1456.20 365.95 1458.20 365.95 1460.20 365.95 1462.20 365.95 1464.20 365.95 1466.20 365.95 1468.20 365.95 1470.20 365.95 1472.20 365.95 1474.20 365.95 1476.20 365.95 1478.20 365.95 1480.20 365.95 1482.20 365.95 1484.20 365.95 1486.20 365.95 1488.20 365.95 1490.20 365.95 1492.20 365.95 1494.20 365.95 1496.20 365.95 1498.20 365.95 1500.20 365.95 1502.20 365.95 1504.20 365.95 1506.20 365.95 1508.20 365.95 1510.20 365.95 1512.20 365.95 1514.20 365.95 1516.20 365.95 1518.20 365.95 1520.20 365.95 1522.20 365.95 1524.20 365.95 1526.20 365.95 1528.20 365.95 1530.20 365.95 1532.20 365.95 1534.20 365.95 1536.20 365.95 1538.20 365.95 1540.20 365.95 1542.20 365.95 1544.20 365.95 1546.20 365.95 1548.20 365.95 1550.20 365.95 1552.20 365.95 1554.20 365.95 1556.20 365.95 1558.20 365.95 1560.20 365.95 1562.20 365.95 1564.20 365.95 1566.20 365.95 1568.20 365.95 1570.20 365.95 1572.20 365.95 1574.20 365.95 1576.20 365.95" fill="none" stroke="#0000dc" stroke-width="2.2" stroke-linejoin="round"/>
<line x1="140.39999999999998" y1="365.45" x2="1577.2" y2="365.45" stroke="#14142a" stroke-width="1.0" opacity="0.75"/>
<line x1="140.39999999999998" y1="366.35" x2="1577.2" y2="366.35" stroke="#101020" stroke-width="1.1"/>
<line x1="208.6" y1="366.40000000000003" x2="208.6" y2="378.3" stroke="#2a2ac4" stroke-width="1.5"/>
<line x1="352.0" y1="366.40000000000003" x2="352.0" y2="378.3" stroke="#2a2ac4" stroke-width="1.5"/>
<line x1="381.3" y1="366.40000000000003" x2="381.3" y2="461.2" stroke="#2a2ac4" stroke-width="1.5"/>
<line x1="562.7" y1="366.40000000000003" x2="562.7" y2="378.3" stroke="#2a2ac4" stroke-width="1.5"/>
<line x1="589.2" y1="366.40000000000003" x2="589.2" y2="461.2" stroke="#2a2ac4" stroke-width="1.5"/>
<line x1="679.0" y1="366.40000000000003" x2="679.0" y2="378.3" stroke="#2a2ac4" stroke-width="1.5"/>
<line x1="734.4" y1="366.40000000000003" x2="734.4" y2="461.2" stroke="#2a2ac4" stroke-width="1.5"/>
<line x1="879.9" y1="366.40000000000003" x2="879.9" y2="378.3" stroke="#2a2ac4" stroke-width="1.5"/>
<line x1="906.6" y1="366.40000000000003" x2="906.6" y2="461.2" stroke="#2a2ac4" stroke-width="1.5"/>
<line x1="1020.2" y1="366.40000000000003" x2="1020.2" y2="378.3" stroke="#2a2ac4" stroke-width="1.5"/>
<line x1="1034.3" y1="366.40000000000003" x2="1034.3" y2="461.2" stroke="#2a2ac4" stroke-width="1.5"/>
<line x1="1291.2" y1="366.40000000000003" x2="1291.2" y2="378.3" stroke="#2a2ac4" stroke-width="1.5"/>
<rect x="174.55" y="378.15" width="69.10" height="71.60" fill="#fff" stroke="#2a2ac4" stroke-width="1.4"/>
<text class="t" x="181.1" y="411.3" font-size="29.5" fill="#000" stroke="#000" stroke-width="0.3">X</text>
<text class="t" x="181.1" y="443.8" font-size="31" fill="#000" stroke="#000" stroke-width="0.3" textLength="56.0" lengthAdjust="spacingAndGlyphs">8051</text>
<rect x="316.25" y="378.15" width="72.20" height="71.60" fill="#fff" stroke="#2a2ac4" stroke-width="1.4"/>
<text class="t" x="324.0" y="411.3" font-size="31" fill="#000" stroke="#000" stroke-width="0.3" textLength="26.6" lengthAdjust="spacingAndGlyphs">15</text>
<text class="t" x="322.8" y="443.8" font-size="31" fill="#000" stroke="#000" stroke-width="0.3" textLength="58.3" lengthAdjust="spacingAndGlyphs">3290</text>
<rect x="345.25" y="461.05" width="72.30" height="71.70" fill="#fff" stroke="#2a2ac4" stroke-width="1.4"/>
<text class="t" x="353.0" y="494.2" font-size="31" fill="#000" stroke="#000" stroke-width="0.3" textLength="26.6" lengthAdjust="spacingAndGlyphs">17</text>
<text class="t" x="351.8" y="526.7" font-size="31" fill="#000" stroke="#000" stroke-width="0.3" textLength="59.3" lengthAdjust="spacingAndGlyphs">2800</text>
<rect x="528.55" y="378.15" width="68.30" height="71.60" fill="#fff" stroke="#2a2ac4" stroke-width="1.4"/>
<text class="t" x="536.3" y="411.3" font-size="31" fill="#000" stroke="#000" stroke-width="0.3" textLength="47.8" lengthAdjust="spacingAndGlyphs">15.3</text>
<text class="t" x="536.3" y="443.8" font-size="31" fill="#000" stroke="#000" stroke-width="0.3" textLength="55.7" lengthAdjust="spacingAndGlyphs">1723</text>
<rect x="555.45" y="461.05" width="68.30" height="71.70" fill="#fff" stroke="#2a2ac4" stroke-width="1.4"/>
<text class="t" x="563.2" y="494.2" font-size="31" fill="#000" stroke="#000" stroke-width="0.3" textLength="47.8" lengthAdjust="spacingAndGlyphs">17.3</text>
<text class="t" x="563.2" y="526.7" font-size="31" fill="#000" stroke="#000" stroke-width="0.3" textLength="56.3" lengthAdjust="spacingAndGlyphs">1383</text>
<rect x="642.95" y="378.15" width="72.80" height="71.60" fill="#fff" stroke="#2a2ac4" stroke-width="1.4"/>
<text class="t" x="650.7" y="411.3" font-size="31" fill="#000" stroke="#000" stroke-width="0.3" textLength="26.6" lengthAdjust="spacingAndGlyphs">10</text>
<text class="t" x="649.5" y="443.8" font-size="31" fill="#000" stroke="#000" stroke-width="0.3" textLength="58.6" lengthAdjust="spacingAndGlyphs">2274</text>
<rect x="699.85" y="461.05" width="69.20" height="71.70" fill="#fff" stroke="#2a2ac4" stroke-width="1.4"/>
<text class="t" x="707.6" y="494.2" font-size="31" fill="#000" stroke="#000" stroke-width="0.3" textLength="26.6" lengthAdjust="spacingAndGlyphs">14</text>
<text class="t" x="707.6" y="526.7" font-size="31" fill="#000" stroke="#000" stroke-width="0.3" textLength="56.1" lengthAdjust="spacingAndGlyphs">1738</text>
<rect x="845.45" y="378.15" width="69.20" height="71.60" fill="#fff" stroke="#2a2ac4" stroke-width="1.4"/>
<text class="t" x="853.2" y="411.3" font-size="31" fill="#000" stroke="#000" stroke-width="0.3" textLength="26.6" lengthAdjust="spacingAndGlyphs">14</text>
<text class="t" x="853.2" y="443.8" font-size="31" fill="#000" stroke="#000" stroke-width="0.3" textLength="57.7" lengthAdjust="spacingAndGlyphs">1105</text>
<rect x="873.35" y="461.05" width="67.10" height="71.70" fill="#fff" stroke="#2a2ac4" stroke-width="1.4"/>
<text class="t" x="881.1" y="494.2" font-size="31" fill="#000" stroke="#000" stroke-width="0.3" textLength="26.6" lengthAdjust="spacingAndGlyphs">16</text>
<text class="t" x="881.1" y="526.7" font-size="31" fill="#000" stroke="#000" stroke-width="0.3" textLength="55.9" lengthAdjust="spacingAndGlyphs">1291</text>
<rect x="986.55" y="378.15" width="67.10" height="71.60" fill="#fff" stroke="#2a2ac4" stroke-width="1.4"/>
<text class="t" x="993.1" y="411.3" font-size="31" fill="#000" stroke="#000" stroke-width="0.3" textLength="12.7" lengthAdjust="spacingAndGlyphs">9</text>
<text class="t" x="994.3" y="443.8" font-size="31" fill="#000" stroke="#000" stroke-width="0.3" textLength="56.4" lengthAdjust="spacingAndGlyphs">1641</text>
<rect x="999.55" y="461.05" width="69.80" height="71.70" fill="#fff" stroke="#2a2ac4" stroke-width="1.4"/>
<text class="t" x="1007.3" y="494.2" font-size="31" fill="#000" stroke="#000" stroke-width="0.3" textLength="26.6" lengthAdjust="spacingAndGlyphs">10</text>
<text class="t" x="1007.3" y="526.7" font-size="31" fill="#000" stroke="#000" stroke-width="0.3" textLength="58.4" lengthAdjust="spacingAndGlyphs">1619</text>
<rect x="1256.35" y="378.15" width="70.10" height="71.60" fill="#fff" stroke="#2a2ac4" stroke-width="1.4"/>
<text class="t" x="1264.1" y="411.3" font-size="31" fill="#000" stroke="#000" stroke-width="0.3" textLength="26.6" lengthAdjust="spacingAndGlyphs">12</text>
<text class="t" x="1264.1" y="443.8" font-size="31" fill="#000" stroke="#000" stroke-width="0.3" textLength="59.3" lengthAdjust="spacingAndGlyphs">1530</text>
</svg></body></html>
